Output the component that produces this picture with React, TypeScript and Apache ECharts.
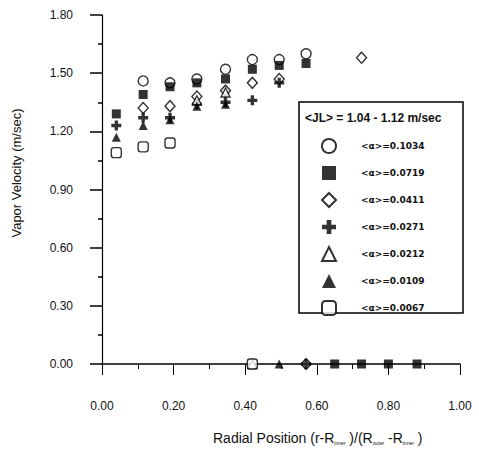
import React, { useEffect, useRef } from "react";
import * as echarts from "echarts";

const xPositions = [0.04, 0.115, 0.19, 0.265, 0.345, 0.42, 0.495, 0.57, 0.65, 0.725, 0.8, 0.88];
const seriesNames = [
  "<α>=0.1034",
  "<α>=0.0719",
  "<α>=0.0411",
  "<α>=0.0271",
  "<α>=0.0212",
  "<α>=0.0109",
  "<α>=0.0067",
];
const alpha1034 = [null, 1.46, 1.45, 1.47, 1.52, 1.57, 1.57, 1.6, null, null, null, null];
const alpha0719 = [1.29, 1.39, 1.43, 1.45, 1.47, 1.52, 1.54, 1.55, 0, 0, 0, 0];
const alpha0411 = [null, 1.32, 1.33, 1.38, 1.41, 1.45, 1.47, 0, null, 1.58, null, null];
const alpha0271 = [1.23, 1.27, 1.27, 1.34, 1.35, 1.36, 1.45, 0, null, null, null, null];
const alpha0212 = [null, null, null, 1.36, 1.4, 0, null, null, null, null, null, null];
const alpha0109 = [1.17, 1.23, 1.26, 1.33, 1.34, null, 0, null, null, null, null, null];
const alpha0067 = [1.09, 1.12, 1.14, null, null, 0, null, null, null, null, null, null];
const yTicks = [0, 0.3, 0.6, 0.9, 1.2, 1.5, 1.8];
const xTicks = [0, 0.2, 0.4, 0.6, 0.8, 1.0];

const PLUS = "path://M4,0H8V4H12V8H8V12H4V8H0V4H4Z";
const FONT = "Liberation Sans, Arial, sans-serif";

export default function App() {
  const ref = useRef<HTMLDivElement>(null);
  useEffect(() => {
    if (!ref.current) return;
    const chart = echarts.init(ref.current, null, { renderer: "svg" });
    const toPairs = (arr: (number | null)[]) =>
      arr.map((v, i) => (v === null ? null : [xPositions[i], v])).filter((p) => p !== null);
    const open = { color: "#fff", borderColor: "#000", borderWidth: 1.4 };
    const filled = { color: "#000", borderColor: "#000", borderWidth: 0 };
    const specs = [
      { data: alpha1034, symbol: "circle", size: 10, style: open },
      { data: alpha0719, symbol: "rect", size: 9, style: filled },
      { data: alpha0411, symbol: "diamond", size: [10, 11], style: open },
      { data: alpha0271, symbol: PLUS, size: 10, style: filled },
      { data: alpha0212, symbol: "triangle", size: 9, style: open },
      { data: alpha0109, symbol: "triangle", size: 9, style: filled },
      { data: alpha0067, symbol: "roundRect", size: 10, style: open },
    ];
    chart.setOption({
      animation: false,
      grid: { left: 102, right: 19, top: 15, bottom: 85 },
      xAxis: {
        type: "value",
        min: xTicks[0],
        max: xTicks[xTicks.length - 1],
        interval: 0.2,
        axisLine: { lineStyle: { color: "#000", width: 1.5 } },
        axisTick: { inside: false, length: 11, lineStyle: { color: "#000", width: 1 } },
        minorTick: { show: true, splitNumber: 2, length: 5, lineStyle: { color: "#000" } },
        splitLine: { show: false },
        axisLabel: {
          margin: 36,
          fontSize: 12,
          fontFamily: FONT,
          color: "#111",
          formatter: (v: number) => v.toFixed(2),
        },
      },
      yAxis: {
        type: "value",
        min: yTicks[0],
        max: yTicks[yTicks.length - 1],
        interval: 0.3,
        axisLine: { show: true, lineStyle: { color: "#000", width: 1.2 } },
        axisTick: { show: true, inside: false, length: 12, lineStyle: { color: "#000", width: 1.5 } },
        minorTick: { show: true, splitNumber: 2, length: 4, lineStyle: { color: "#000", width: 1.5 } },
        splitLine: { show: false },
        axisLabel: {
          margin: 29,
          fontSize: 12,
          fontFamily: FONT,
          color: "#111",
          formatter: (v: number) => v.toFixed(2),
        },
      },
      legend: {
        orient: "vertical",
        left: 321,
        top: 138,
        padding: 0,
        itemWidth: 14,
        itemHeight: 14,
        itemGap: 12,
        z: 10,
        selectedMode: false,
        data: seriesNames.map((n, i) => ({
          name: n,
          icon: specs[i].symbol,
        })),
        textStyle: {
          fontSize: 9,
          fontWeight: "bold",
          fontFamily: "DejaVu Sans, sans-serif",
          color: "#111",
          padding: [0, 0, 0, 20],
        },
      },
      graphic: [
        {
          type: "rect",
          z: 5,
          shape: { x: 299, y: 102, width: 164, height: 211 },
          style: { fill: "#fff", stroke: "#000", lineWidth: 1.5 },
        },
        {
          type: "text",
          z: 6,
          x: 305,
          y: 118,
          style: {
            text: "<JL> = 1.04 - 1.12 m/sec",
            font: "bold 12px " + FONT,
            fill: "#111",
            textVerticalAlign: "middle",
          },
        },
        {
          type: "text",
          x: 16,
          y: 173,
          rotation: Math.PI / 2,
          style: {
            text: "Vapor Velocity (m/sec)",
            font: "13px " + FONT,
            fill: "#111",
            textAlign: "center",
            textVerticalAlign: "middle",
          },
        },
        {
          type: "text",
          x: 213,
          y: 438,
          style: {
            text: "Radial Position (r-R{s|inner} )/(R{s|outer} -R{s|inner} )",
            font: "14px " + FONT,
            fill: "#111",
            textVerticalAlign: "middle",
            rich: {
              s: { fontSize: 5, fontFamily: FONT, fill: "#111", padding: [10, 0, 0, 0] },
            },
          },
        },
      ],
      series: specs.map((s, i) => ({
        name: seriesNames[i],
        type: "scatter",
        symbol: s.symbol,
        symbolSize: s.size,
        itemStyle: s.style,
        data: toPairs(s.data as (number | null)[]),
      })),
    });
    return () => chart.dispose();
  }, []);
  return <div ref={ref} style={{ width: 479, height: 449, position: "absolute", left: 0, top: 0 }} />;
}
